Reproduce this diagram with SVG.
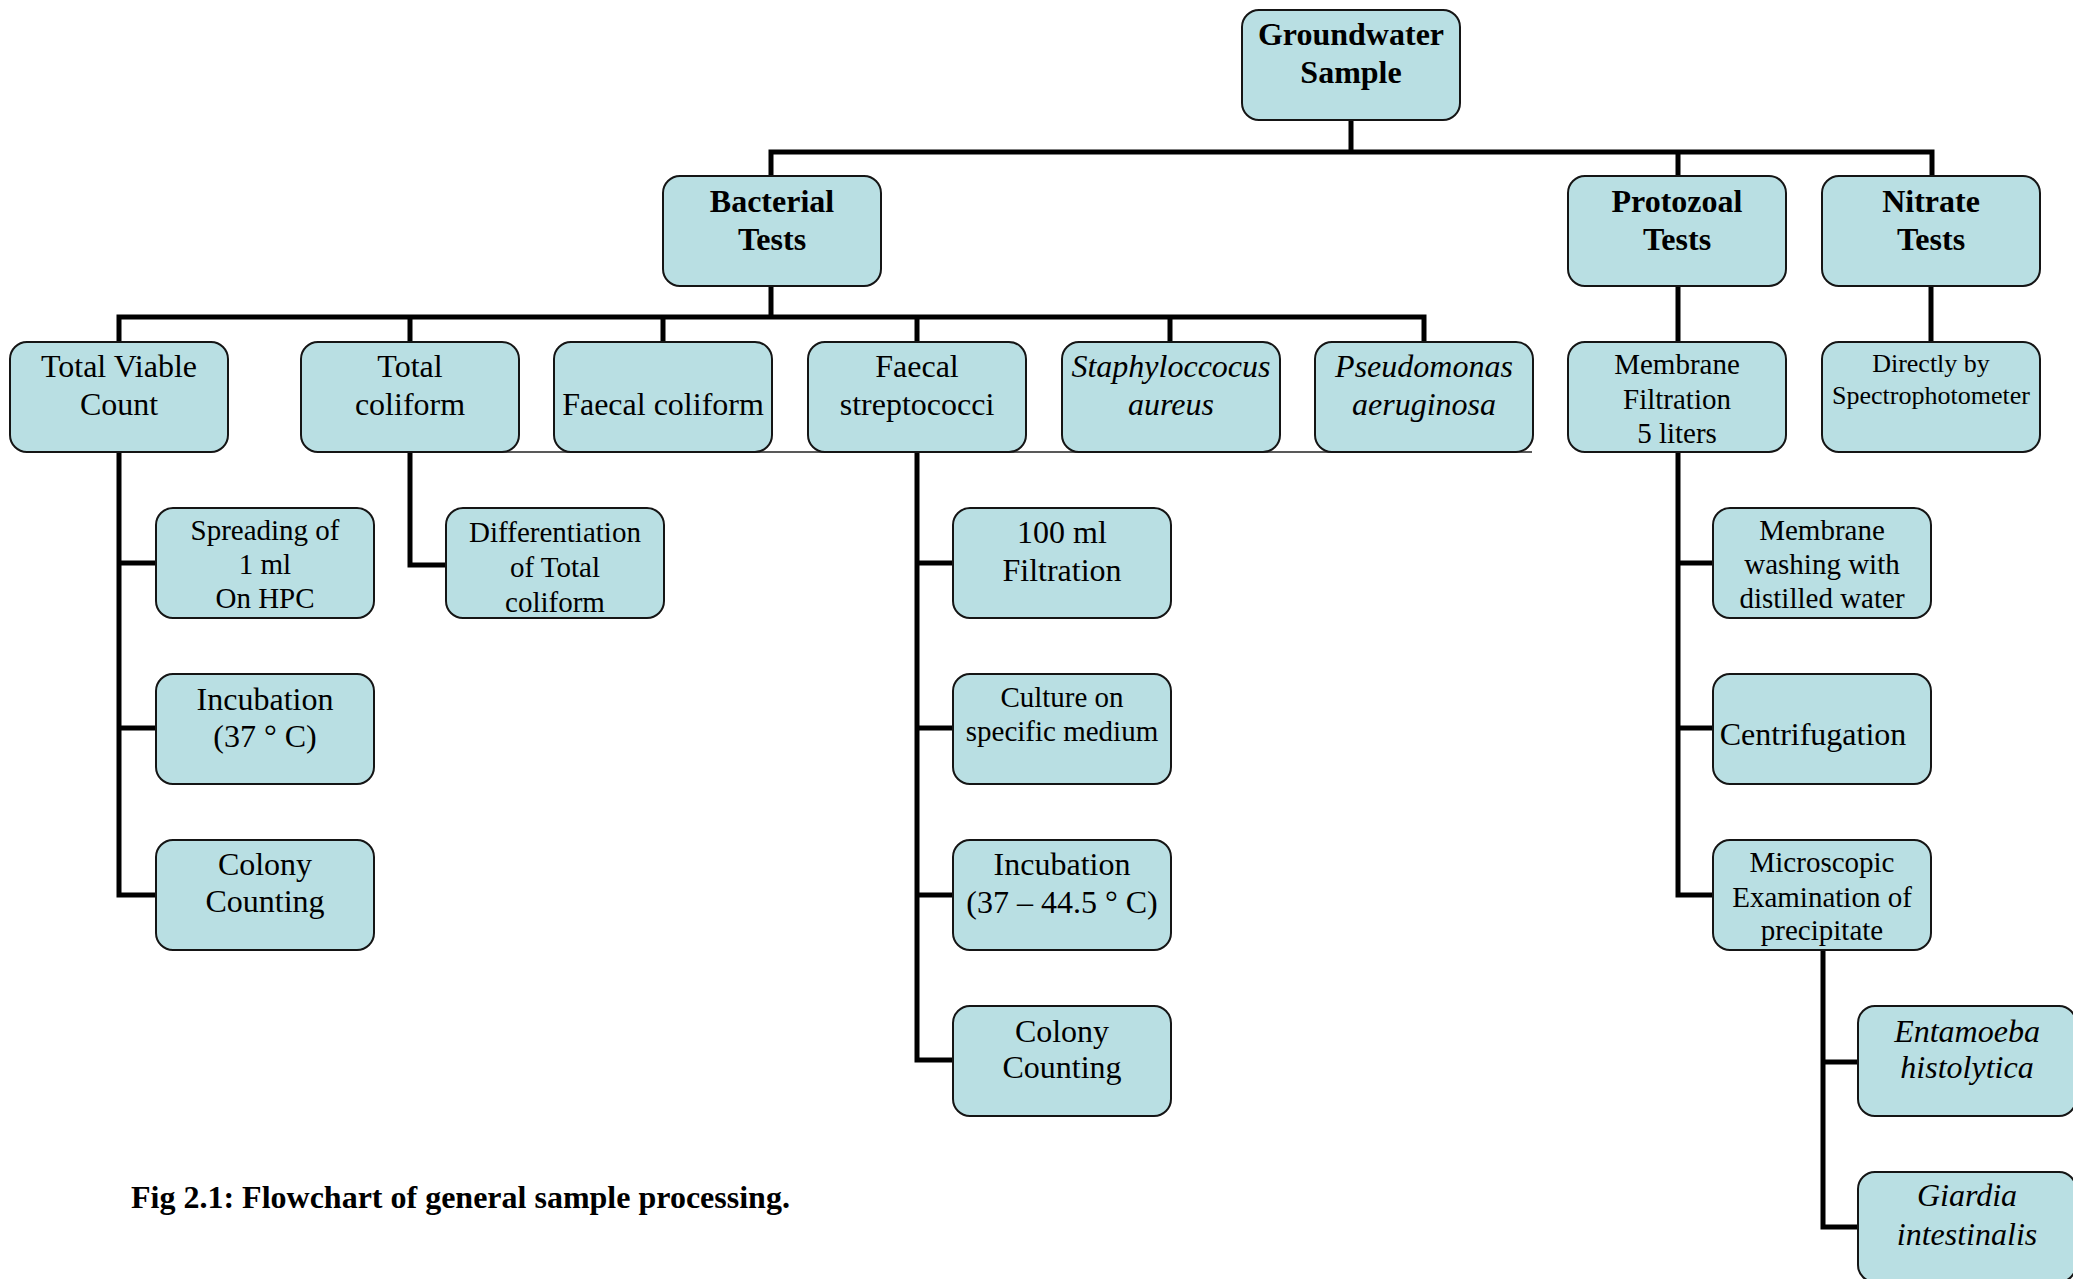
<svg xmlns="http://www.w3.org/2000/svg" width="2073" height="1279" viewBox="0 0 2073 1279">
<style>
.box{fill:#b9dfe3;stroke:#151515;stroke-width:2}
.t{font-family:"Liberation Serif","Times New Roman",serif;font-size:32px;fill:#000;text-anchor:middle}
.b{font-weight:bold}
.i{font-style:italic}
.s{font-size:29px}
.xs{font-size:26px}
.c{fill:none;stroke:#000;stroke-width:5;stroke-linejoin:miter}
.thin{fill:none;stroke:#222;stroke-width:1.5}
</style>
<rect width="2073" height="1279" fill="#fff"/>
<g id="connectors">
<path class="thin" d="M410 452 H1532"/>
<path class="c" d="M1351 120 V152 M771 176 V152 H1932 V176 M1678 152 V176"/>
<path class="c" d="M771 286 V317 M119 342 V317 H1424 V342 M410 317 V342 M663 317 V342 M917 317 V342 M1170 317 V342"/>
<path class="c" d="M119 452 V895 H156 M119 563 H156 M119 728 H156"/>
<path class="c" d="M410 452 V565 H446"/>
<path class="c" d="M917 452 V1060 H953 M917 563 H953 M917 728 H953 M917 895 H953"/>
<path class="c" d="M1678 286 V342 M1678 452 V895 H1713 M1678 563 H1713 M1678 728 H1713"/>
<path class="c" d="M1931 286 V342"/>
<path class="c" d="M1823 950 V1227 H1858 M1823 1062 H1858"/>
</g>
<g id="groundwater"><rect class="box" x="1242" y="10" width="218" height="110" rx="17"/><text class="t b" x="1351" y="45">Groundwater</text><text class="t b" x="1351" y="83">Sample</text></g>
<g id="bacterial"><rect class="box" x="663" y="176" width="218" height="110" rx="17"/><text class="t b" x="772" y="212">Bacterial</text><text class="t b" x="772" y="250">Tests</text></g>
<g id="protozoal"><rect class="box" x="1568" y="176" width="218" height="110" rx="17"/><text class="t b" x="1677" y="212">Protozoal</text><text class="t b" x="1677" y="250">Tests</text></g>
<g id="nitrate"><rect class="box" x="1822" y="176" width="218" height="110" rx="17"/><text class="t b" x="1931" y="212">Nitrate</text><text class="t b" x="1931" y="250">Tests</text></g>
<g id="tvc"><rect class="box" x="10" y="342" width="218" height="110" rx="17"/><text class="t" x="119" y="377">Total Viable</text><text class="t" x="119" y="415">Count</text></g>
<g id="totalcoliform"><rect class="box" x="301" y="342" width="218" height="110" rx="17"/><text class="t" x="410" y="377">Total</text><text class="t" x="410" y="415">coliform</text></g>
<g id="faecalcoliform"><rect class="box" x="554" y="342" width="218" height="110" rx="17"/><text class="t" x="663" y="415">Faecal coliform</text></g>
<g id="faecalstrep"><rect class="box" x="808" y="342" width="218" height="110" rx="17"/><text class="t" x="917" y="377">Faecal</text><text class="t" x="917" y="415">streptococci</text></g>
<g id="staph"><rect class="box" x="1062" y="342" width="218" height="110" rx="17"/><text class="t i" x="1171" y="377">Staphyloccocus</text><text class="t i" x="1171" y="415">aureus</text></g>
<g id="pseudomonas"><rect class="box" x="1315" y="342" width="218" height="110" rx="17"/><text class="t i" x="1424" y="377">Pseudomonas</text><text class="t i" x="1424" y="415">aeruginosa</text></g>
<g id="membranefiltration"><rect class="box" x="1568" y="342" width="218" height="110" rx="17"/><text class="t s" x="1677" y="374">Membrane</text><text class="t s" x="1677" y="409">Filtration</text><text class="t s" x="1677" y="443">5 liters</text></g>
<g id="spectro"><rect class="box" x="1822" y="342" width="218" height="110" rx="17"/><text class="t xs" x="1931" y="372">Directly by</text><text class="t xs" x="1931" y="404">Spectrophotometer</text></g>
<g id="spreading"><rect class="box" x="156" y="508" width="218" height="110" rx="17"/><text class="t s" x="265" y="540">Spreading of</text><text class="t s" x="265" y="574">1 ml</text><text class="t s" x="265" y="608">On HPC</text></g>
<g id="incubation1"><rect class="box" x="156" y="674" width="218" height="110" rx="17"/><text class="t" x="265" y="710">Incubation</text><text class="t" x="265" y="747">(37 ° C)</text></g>
<g id="colony1"><rect class="box" x="156" y="840" width="218" height="110" rx="17"/><text class="t" x="265" y="875">Colony</text><text class="t" x="265" y="912">Counting</text></g>
<g id="differentiation"><rect class="box" x="446" y="508" width="218" height="110" rx="17"/><text class="t s" x="555" y="542">Differentiation</text><text class="t s" x="555" y="577">of Total</text><text class="t s" x="555" y="612">coliform</text></g>
<g id="filtration100"><rect class="box" x="953" y="508" width="218" height="110" rx="17"/><text class="t" x="1062" y="543">100 ml</text><text class="t" x="1062" y="581">Filtration</text></g>
<g id="culture"><rect class="box" x="953" y="674" width="218" height="110" rx="17"/><text class="t s" x="1062" y="707">Culture on</text><text class="t s" x="1062" y="741">specific medium</text></g>
<g id="incubation2"><rect class="box" x="953" y="840" width="218" height="110" rx="17"/><text class="t" x="1062" y="875">Incubation</text><text class="t" x="1062" y="913">(37 – 44.5 ° C)</text></g>
<g id="colony2"><rect class="box" x="953" y="1006" width="218" height="110" rx="17"/><text class="t" x="1062" y="1042">Colony</text><text class="t" x="1062" y="1078">Counting</text></g>
<g id="washing"><rect class="box" x="1713" y="508" width="218" height="110" rx="17"/><text class="t s" x="1822" y="540">Membrane</text><text class="t s" x="1822" y="574">washing with</text><text class="t s" x="1822" y="608">distilled water</text></g>
<g id="centrifugation"><rect class="box" x="1713" y="674" width="218" height="110" rx="17"/><text class="t" x="1813" y="745">Centrifugation</text></g>
<g id="microscopic"><rect class="box" x="1713" y="840" width="218" height="110" rx="17"/><text class="t s" x="1822" y="872">Microscopic</text><text class="t s" x="1822" y="907">Examination of</text><text class="t s" x="1822" y="940">precipitate</text></g>
<g id="entamoeba"><rect class="box" x="1858" y="1006" width="218" height="110" rx="17"/><text class="t i" x="1967" y="1042">Entamoeba</text><text class="t i" x="1967" y="1078">histolytica</text></g>
<g id="giardia"><rect class="box" x="1858" y="1172" width="218" height="110" rx="17"/><text class="t i" x="1967" y="1206">Giardia</text><text class="t i" x="1967" y="1245">intestinalis</text></g>
<text class="t b" x="131" y="1208" style="text-anchor:start">Fig 2.1: Flowchart of general sample processing.</text>
</svg>
